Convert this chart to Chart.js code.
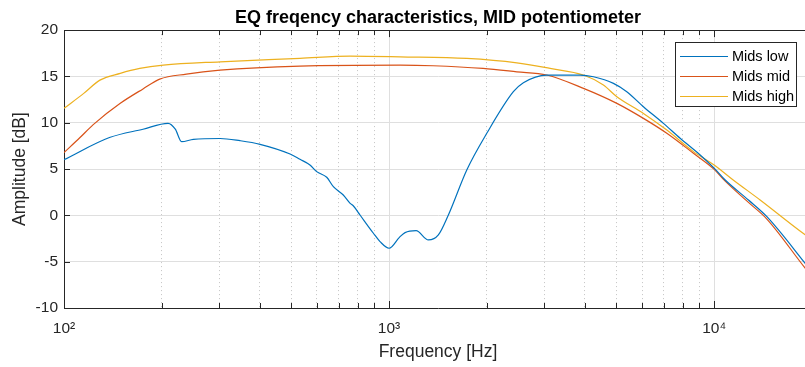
<!DOCTYPE html>
<html>
<head>
<meta charset="utf-8">
<script src="https://cdn.jsdelivr.net/npm/chart.js@4/dist/chart.umd.min.js"></script>
<style>
    html, body { margin: 0; padding: 0; background: #fff; overflow: hidden; }
    #wrap { position: relative; width: 805px; height: 367px; overflow: hidden; }
    #graph { position: absolute; left: 0; top: 0; }
</style>
</head>
<body>
<div id="wrap">
    <canvas id="graph" width="830" height="367"></canvas>
</div>
<script>
const seriesNames = ["Mids low", "Mids mid", "Mids high"];
const seriesColors = ["#0072BD", "#D95319", "#EDB120"];

// Mids low
const freqLow = [100, 138, 175, 209, 220, 230, 250, 302, 348, 401, 496, 532, 571, 599, 643, 674, 723, 759, 777, 814, 895, 938, 1000,
    1076, 1120, 1211, 1321, 1418, 1522, 1734, 1998, 2412, 2589, 3056, 3870, 4254, 4900, 5386, 6060, 6981, 7860, 9057,
    10000, 10814, 12750, 14530, 19055, 20000];
const ampLow = [6.0, 8.4, 9.3, 9.93, 9.3, 7.95, 8.2, 8.3, 8.06, 7.67, 6.62, 6.05, 5.44, 4.72, 4.11, 3.1, 2.2, 1.3, 1.01, 0.04, -1.93, -2.83, -3.55,
    -2.37, -1.86, -1.65, -2.65, -2.11, 0.04, 4.9, 8.86, 13.35, 14.32, 15.15, 15.15, 14.96, 14.25, 13.35, 11.73, 9.93, 8.32, 6.52,
    5.1, 3.82, 1.66, -0.14, -5.17, -6.1];

// Mids mid
const freqMid = [100, 112, 123, 149, 175, 197, 238, 302, 532, 1081, 1365, 1946, 2472, 3056, 3963, 5020, 6060, 7152, 8636,
    10000, 10814, 12750, 14530, 19055, 20000];
const ampMid = [6.77, 8.4, 9.8, 12.1, 13.65, 14.71, 15.25, 15.68, 16.12, 16.22, 16.15, 15.86, 15.5, 15.15, 13.71, 12.09, 10.47, 8.86, 6.7,
    4.97, 3.7, 1.4, -0.4, -5.7, -6.6];

// Mids high
const freqHigh = [100, 115, 129, 149, 171, 202, 302, 532, 759, 1081, 1734, 2472, 3129, 3963, 4564, 5020, 6060, 7152, 8636,
    10000, 11445, 13850, 19055, 20000];
const ampHigh = [11.55, 13.17, 14.6, 15.33, 15.86, 16.22, 16.58, 16.95, 17.2, 17.12, 16.95, 16.47, 15.86, 15.15, 14.07, 12.81, 11.01, 9.21, 6.88,
    5.44, 3.82, 1.66, -2.1, -2.6];

const xTicks = [100, 200, 300, 400, 500, 600, 700, 800, 900, 1000, 2000, 3000, 4000, 5000, 6000, 7000, 8000, 9000, 10000, 20000];
const yTicks = [-10, -5, 0, 5, 10, 15, 20];

const fontFamily = '"Liberation Sans", Arial, Helvetica, sans-serif';
const sup = { 2: "\u00B2", 3: "\u00B3", 4: "\u2074" };

function isDecade(v) {
    const l = Math.log10(v);
    return Math.abs(l - Math.round(l)) < 1e-9;
}

function toPoints(xs, ys) {
    return xs.map((x, i) => ({ x: x, y: ys[i] }));
}

// box on top + inward tick marks like matlab
const framePlugin = {
    id: "frame",
    afterDatasetsDraw(chart) {
        const { ctx, chartArea: a, scales: { x, y } } = chart;
        ctx.save();
        ctx.strokeStyle = "#262626";
        ctx.lineWidth = 1;
        ctx.beginPath();
        ctx.moveTo(a.left, Math.round(a.top) + 0.5);
        ctx.lineTo(a.right, Math.round(a.top) + 0.5);
        x.ticks.forEach(t => {
            const px = Math.round(x.getPixelForValue(t.value)) + 0.5;
            const len = isDecade(t.value) ? 7 : 5;
            ctx.moveTo(px, a.bottom);
            ctx.lineTo(px, a.bottom - len);
            ctx.moveTo(px, a.top);
            ctx.lineTo(px, a.top + len);
        });
        y.ticks.forEach(t => {
            const py = Math.round(y.getPixelForValue(t.value)) + 0.5;
            ctx.moveTo(a.left, py);
            ctx.lineTo(a.left + 6, py);
        });
        ctx.stroke();
        ctx.restore();
    }
};

// legend box in the upper right corner of the axes
const boxLegend = {
    id: "boxLegend",
    afterDraw(chart) {
        const { ctx } = chart;
        const left = 675, top = 42, w = 121, h = 64;
        ctx.save();
        ctx.fillStyle = "#fff";
        ctx.fillRect(left, top, w, h);
        ctx.strokeStyle = "#262626";
        ctx.lineWidth = 1;
        ctx.strokeRect(left + 0.5, top + 0.5, w, h);
        ctx.font = "14.5px " + fontFamily;
        ctx.textBaseline = "middle";
        ctx.fillStyle = "#000";
        chart.data.datasets.forEach((ds, i) => {
            const cy = top + 14 + i * 20;
            ctx.strokeStyle = ds.borderColor;
            ctx.lineWidth = 1.2;
            ctx.beginPath();
            ctx.moveTo(left + 5, cy + 0.5);
            ctx.lineTo(left + 53, cy + 0.5);
            ctx.stroke();
            ctx.fillText(ds.label, left + 57, cy + 1);
        });
        ctx.restore();
    }
};

const datasets = [
    toPoints(freqLow, ampLow),
    toPoints(freqMid, ampMid),
    toPoints(freqHigh, ampHigh)
].map((pts, i) => ({
    label: seriesNames[i],
    data: pts,
    borderColor: seriesColors[i],
    backgroundColor: seriesColors[i],
    borderWidth: 1.2,
    showLine: true,
    pointRadius: 0,
    cubicInterpolationMode: "monotone"
}));

const chartEl = document.querySelector("#graph").getContext("2d");

// eslint-disable-next-line no-unused-vars
let chart = new Chart(chartEl, {
    type: "scatter",
    data: { datasets: datasets },
    plugins: [framePlugin, boxLegend],
    options: {
        responsive: false,
        animation: false,
        devicePixelRatio: 1,
        layout: { padding: { left: 0, right: 18, top: 0, bottom: 0 } },
        plugins: {
            legend: { display: false },
            tooltip: { enabled: false },
            title: {
                display: true,
                text: "EQ freqency characteristics, MID potentiometer",
                fullSize: false,
                color: "#000",
                font: { family: fontFamily, size: 18, weight: "bold", lineHeight: 1.2 },
                padding: { top: 7.5, bottom: 1 }
            }
        },
        scales: {
            x: {
                type: "logarithmic",
                min: 100,
                max: 20000,
                afterBuildTicks: scale => { scale.ticks = xTicks.map(v => ({ value: v })); },
                afterFit: scale => { scale.height = 59; },
                ticks: {
                    autoSkip: false,
                    maxRotation: 0,
                    padding: 11,
                    color: "#262626",
                    font: { family: fontFamily, size: 15.5 },
                    callback: v => isDecade(v) ? "10" + sup[Math.round(Math.log10(v))] : ""
                },
                grid: {
                    drawTicks: false,
                    color: c => (c.tick && !isDecade(c.tick.value)) ? "#c4c4c4" : "#dfdfdf",
                    lineWidth: 1
                },
                border: {
                    color: "#262626",
                    width: 1,
                    dash: c => (c.tick && !isDecade(c.tick.value)) ? [1, 3] : []
                },
                title: {
                    display: true,
                    text: "Frequency [Hz]",
                    color: "#262626",
                    font: { family: fontFamily, size: 17.5, lineHeight: 1.2 },
                    padding: { top: 0, bottom: 4.5 }
                }
            },
            y: {
                min: -10,
                max: 20,
                afterBuildTicks: scale => { scale.ticks = yTicks.map(v => ({ value: v })); },
                afterFit: scale => { scale.width = 64; },
                ticks: {
                    padding: 6,
                    color: "#262626",
                    font: { family: fontFamily, size: 15.5 }
                },
                grid: {
                    drawTicks: false,
                    color: "#dfdfdf",
                    lineWidth: 1
                },
                border: { color: "#262626", width: 1 },
                title: {
                    display: true,
                    text: "Amplitude [dB]",
                    color: "#262626",
                    font: { family: fontFamily, size: 17.5, lineHeight: 1.2 },
                    padding: { top: 10, bottom: 0 }
                }
            }
        }
    }
});
</script>
</body>
</html>
